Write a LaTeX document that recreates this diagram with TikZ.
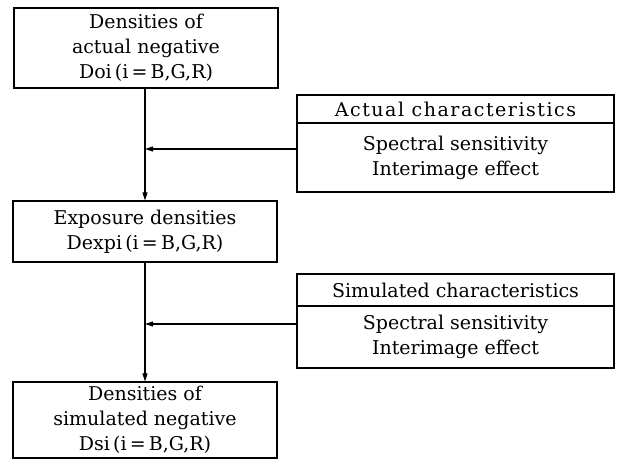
\documentclass[tikz,border=0pt]{standalone}
\usepackage{fontspec}
\setmainfont{DejaVu Serif}
\usetikzlibrary{arrows.meta}
\begin{document}
\begin{tikzpicture}[x=1pt,y=-1pt,
  box/.style={draw,line width=1.1pt,rectangle,inner sep=0pt,align=center,
    font=\fontsize{19}{25}\selectfont},
  conn/.style={line width=1.1pt},
  arr/.style={conn,-{Triangle[length=8pt,width=5pt]}}]
\useasboundingbox (0,0) rectangle (624,461);
\node[box,minimum width=264pt,minimum height=80pt] (b1) at (146,48)
  {Densities of\\actual negative\\Doi\,(i\,=\,B,G,R)};
\node[box,minimum width=264pt,minimum height=61pt] (b3) at (145,231.5)
  {Exposure densities\\Dexpi\,(i\,=\,B,G,R)};
\node[box,minimum width=264pt,minimum height=76pt] (b5) at (145,420)
  {Densities of\\simulated negative\\Dsi\,(i\,=\,B,G,R)};
\node[box,minimum width=317pt,minimum height=28pt] (ah) at (455.5,109)
  {\addfontfeature{LetterSpace=8}Actual characteristics};
\node[box,minimum width=317pt,minimum height=69pt] (ab) at (455.5,157.5)
  {Spectral sensitivity\\Interimage effect};
\node[box,minimum width=317pt,minimum height=32pt] (sh) at (455.5,290)
  {Simulated characteristics};
\node[box,minimum width=317pt,minimum height=62pt] (sb) at (455.5,337)
  {Spectral sensitivity\\Interimage effect};
\coordinate (jA) at (145,149);
\coordinate (eA) at (297,149);
\coordinate (jB) at (145,324);
\coordinate (eB) at (297,324);
\draw[arr] (b1.south -| jA) -- (b3.north -| jA);
\draw[arr] (b3.south -| jB) -- (b5.north -| jB);
\draw[arr] (eA) -- (jA);
\draw[arr] (eB) -- (jB);
\end{tikzpicture}
\end{document}
